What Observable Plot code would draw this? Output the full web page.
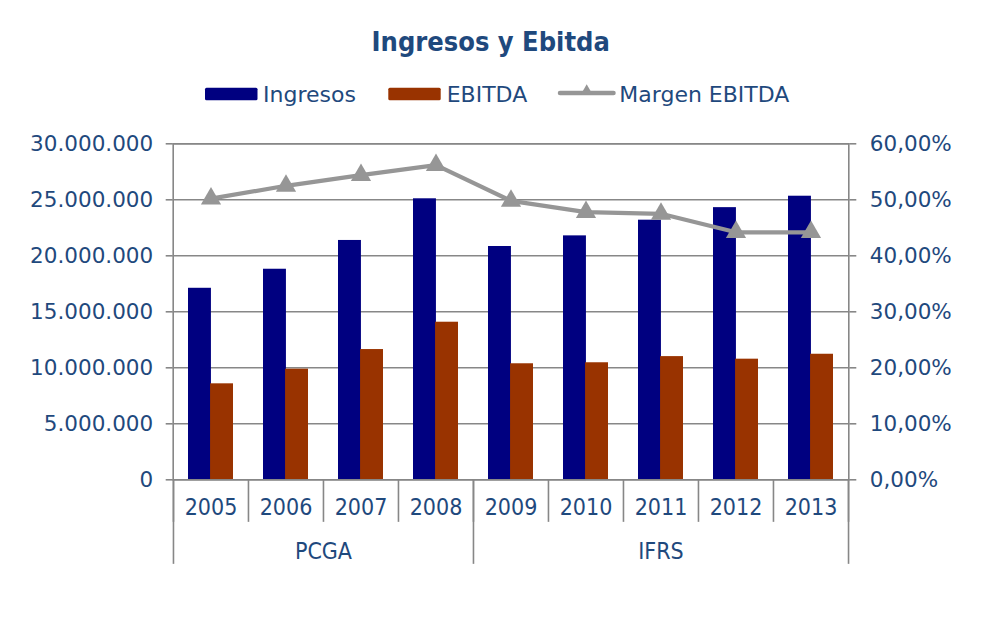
<!DOCTYPE html>
<html>
<head>
<meta charset="utf-8">
<script src="https://cdn.jsdelivr.net/npm/d3@7"></script>
<script src="https://cdn.jsdelivr.net/npm/@observablehq/plot@0.6"></script>
<style>
  body { margin: 0; background: #ffffff; }
  #wrap { position: relative; width: 990px; height: 619px; background: #ffffff; }
  #head { position: absolute; left: 0; top: 0; }
  #chart { position: absolute; left: 0; top: 120px; }
</style>
</head>
<body>
<div id="wrap">
  <svg id="head" width="990" height="120"></svg>
  <div id="chart"></div>
</div>
<script>
// ---- data ----
const years = ["2005", "2006", "2007", "2008", "2009", "2010", "2011", "2012", "2013"];
const groupNames = ["PCGA", "IFRS"];
const groupOfYear = ["PCGA", "PCGA", "PCGA", "PCGA", "IFRS", "IFRS", "IFRS", "IFRS", "IFRS"];
const ingresos = [17100000, 18800000, 21370000, 25090000, 20830000, 21780000, 23180000, 24300000, 25320000];
const ebitda = [8570000, 9880000, 11630000, 14070000, 10360000, 10450000, 11000000, 10770000, 11210000];
const margen = [50.2, 52.5, 54.4, 56.2, 49.8, 47.8, 47.5, 44.2, 44.2];
const leftTicks = [0, 5000000, 10000000, 15000000, 20000000, 25000000, 30000000];
const rightTicks = [0, 10, 20, 30, 40, 50, 60];
const seriesNames = ["Ingresos", "EBITDA", "Margen EBITDA"];
const titleText = "Ingresos y Ebitda";

// ---- styles ----
const TEXT = "#1f497d";
const GRID = "#878787";
const C_ING = "#000080";
const C_EBI = "#993300";
const C_MAR = "#969696";

const W = 990, H = 499;
const mL = 172.7, mR = 141.7, mT = 23.3, mB = 139.7;
const bw = (W - mL - mR) / years.length;
const yMax = leftTicks[leftTicks.length - 1];
const rMax = rightTicks[rightTicks.length - 1];
const toLeft = (p) => p * yMax / rMax;

const rows = years.map((y, i) => ({year: y, group: groupOfYear[i], ing: ingresos[i], ebi: ebitda[i], mar: toLeft(margen[i])}));

// separators: left edge of each year, plus right edge of last
const sepRows = years.map((y) => ({year: y, dx: -bw / 2})).concat([{year: years[years.length - 1], dx: bw / 2}]);
// group boundaries
const groupRows = [];
const groupLabelRows = [];
groupNames.forEach((g) => {
  const ys = years.filter((y, i) => groupOfYear[i] === g);
  groupRows.push({year: ys[0], dx: -bw / 2});
  const n = ys.length;
  if (n % 2 === 1) groupLabelRows.push({year: ys[(n - 1) / 2], label: g, dx: 0});
  else groupLabelRows.push({year: ys[n / 2], label: g, dx: -bw / 2});
});
groupRows.push({year: years[years.length - 1], dx: bw / 2});

const fmtLeft = (d) => d3.format(",")(d).replace(/,/g, ".");
const fmtRight = (d) => (d * rMax / yMax).toFixed(2).replace(".", ",") + "%";

const sepMarks = sepRows.map((r) => Plot.ruleX([r.year], {x: (d) => d, y1: 0, y2: -3.8e6, dx: r.dx, stroke: GRID, strokeWidth: 1.6}));
const groupMarks = groupRows.map((r) => Plot.ruleX([r.year], {x: (d) => d, y1: 0, y2: -7.55e6, dx: r.dx, stroke: GRID, strokeWidth: 1.6}));
const groupTextMarks = groupLabelRows.map((r) => Plot.text([r], {x: "year", text: "label", frameAnchor: "bottom", dy: 79, dx: r.dx, fontSize: 23, fontFamily: "DejaVu Sans Condensed, DejaVu Sans", fill: TEXT}));

const chart = Plot.plot({
  width: W,
  height: H,
  marginLeft: mL,
  marginRight: mR,
  marginTop: mT,
  marginBottom: mB,
  style: {background: "#ffffff", color: TEXT, fontFamily: "DejaVu Sans", overflow: "visible"},
  x: {type: "band", domain: years, padding: 0, axis: null},
  y: {domain: [0, yMax], axis: null},
  marks: [
    Plot.ruleY(leftTicks, {stroke: GRID, strokeWidth: 1.4}),
    Plot.barY(rows, {x: "year", y: "ing", fill: C_ING, insetLeft: 15, insetRight: 37.07}),
    Plot.barY(rows, {x: "year", y: "ebi", fill: C_EBI, insetLeft: 37.07, insetRight: 15}),
    Plot.frame({stroke: GRID, strokeWidth: 1.6}),
    Plot.axisY({anchor: "left", ticks: leftTicks, tickSize: 7, tickPadding: 13, tickFormat: fmtLeft, stroke: GRID, strokeWidth: 1.6, fill: TEXT, fontSize: 21.5, label: null}),
    Plot.axisY({anchor: "right", ticks: leftTicks, tickSize: 7, tickPadding: 14, tickFormat: fmtRight, stroke: GRID, strokeWidth: 1.6, fill: TEXT, fontSize: 21.5, label: null}),
    ...sepMarks,
    ...groupMarks,
    Plot.text(rows, {x: "year", text: "year", frameAnchor: "bottom", dy: 35.5, fontSize: 23, fontFamily: "DejaVu Sans Condensed, DejaVu Sans", fill: TEXT}),
    ...groupTextMarks,
    Plot.lineY(rows, {x: "year", y: "mar", stroke: C_MAR, strokeWidth: 4.2, strokeLinejoin: "round"}),
    Plot.dot(rows, {x: "year", y: "mar", symbol: "triangle", r: 7.5, fill: C_MAR, stroke: "none"})
  ]
});
document.getElementById("chart").appendChild(chart);

// ---- header: title + legend ----
const head = d3.select("#head");
head.append("text").attr("x", 490.7).attr("y", 51.3).attr("text-anchor", "middle")
  .attr("font-family", "DejaVu Sans Condensed, DejaVu Sans").attr("font-stretch", "condensed")
  .attr("font-weight", "bold").attr("font-size", 27).attr("fill", TEXT).text(titleText);

const legendY = 101.5;
// Ingresos
head.append("rect").attr("x", 205).attr("y", 87.7).attr("width", 52.5).attr("height", 12.6).attr("rx", 1.5).attr("fill", C_ING);
head.append("text").attr("x", 263).attr("y", legendY).attr("font-family", "DejaVu Sans").attr("font-size", 22).attr("fill", TEXT).text(seriesNames[0]);
// EBITDA
head.append("rect").attr("x", 388.3).attr("y", 87.7).attr("width", 52.4).attr("height", 12.6).attr("rx", 1.5).attr("fill", C_EBI);
head.append("text").attr("x", 446.7).attr("y", legendY).attr("font-family", "DejaVu Sans").attr("font-size", 22).attr("fill", TEXT).text(seriesNames[1]);
// Margen EBITDA
head.append("line").attr("x1", 560).attr("x2", 613.5).attr("y1", 93).attr("y2", 93).attr("stroke", C_MAR).attr("stroke-width", 4.5).attr("stroke-linecap", "round");
head.append("path").attr("d", d3.symbol(d3.symbolTriangle, 60)()).attr("transform", "translate(586.7,91)").attr("fill", C_MAR);
head.append("text").attr("x", 619.3).attr("y", legendY).attr("font-family", "DejaVu Sans").attr("font-size", 22).attr("fill", TEXT).text(seriesNames[2]);
</script>
</body>
</html>
